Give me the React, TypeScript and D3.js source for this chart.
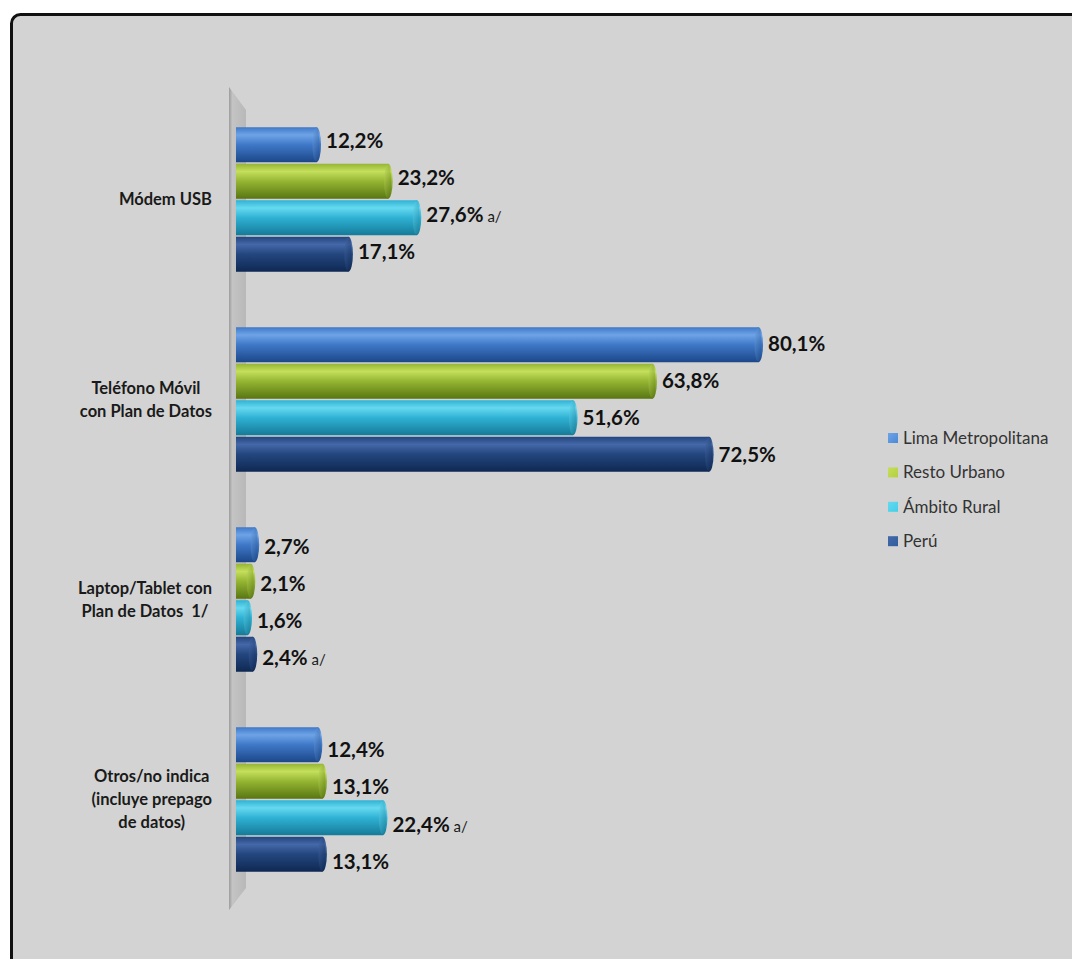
import React, { useEffect, useRef } from "react";
import * as d3 from "d3";

const seriesNames = ["Lima Metropolitana", "Resto Urbano", "Ámbito Rural", "Perú"];
const categories = [
  "Módem USB",
  "Teléfono Móvil\ncon Plan de Datos",
  "Laptop/Tablet con\nPlan de Datos  1/",
  "Otros/no indica\n(incluye prepago\nde datos)",
];
const limaValues = [12.2, 80.1, 2.7, 12.4];
const restoValues = [23.2, 63.8, 2.1, 13.1];
const ambitoValues = [27.6, 51.6, 1.6, 22.4];
const peruValues = [17.1, 72.5, 2.4, 13.1];
const limaNotes = ["", "", "", ""];
const restoNotes = ["", "", "", ""];
const ambitoNotes = ["a/", "", "", "a/"];
const peruNotes = ["", "", "a/", ""];

const seriesColors = [
  { light: "#6ea4e6", base: "#3f78c8", dark: "#1b4788", legend: "#4a8ad8" },
  { light: "#c4df5c", base: "#95b533", dark: "#587612", legend: "#b6cf3e" },
  { light: "#66d9f0", base: "#2fb2d4", dark: "#157a98", legend: "#42cfe8" },
  { light: "#4468a8", base: "#24467e", dark: "#0e2852", legend: "#2f5f9e" },
];

export default function App() {
  const ref = useRef<SVGSVGElement>(null);

  useEffect(() => {
    const svg = d3.select(ref.current);
    svg.selectAll("*").remove();
    const values = [limaValues, restoValues, ambitoValues, peruValues];
    const notes = [limaNotes, restoNotes, ambitoNotes, peruNotes];
    const font = "Lato, 'Open Sans', sans-serif";

    const defs = svg.append("defs");
    seriesColors.forEach((c, i) => {
      const g = defs.append("linearGradient").attr("id", `bar${i}`).attr("x1", 0).attr("y1", 0).attr("x2", 0).attr("y2", 1);
      g.append("stop").attr("offset", "0").attr("stop-color", c.base);
      g.append("stop").attr("offset", "0.22").attr("stop-color", c.light);
      g.append("stop").attr("offset", "0.5").attr("stop-color", c.base);
      g.append("stop").attr("offset", "1").attr("stop-color", c.dark);
      const cg = defs.append("linearGradient").attr("id", `cap${i}`).attr("x1", 0).attr("y1", 0).attr("x2", 1).attr("y2", 1);
      cg.append("stop").attr("offset", "0").attr("stop-color", c.light);
      cg.append("stop").attr("offset", "1").attr("stop-color", c.dark);
      const lg = defs.append("linearGradient").attr("id", `leg${i}`).attr("x1", 0).attr("y1", 0).attr("x2", 1).attr("y2", 1);
      lg.append("stop").attr("offset", "0").attr("stop-color", c.light);
      lg.append("stop").attr("offset", "1").attr("stop-color", c.legend);
    });
    const wg = defs.append("linearGradient").attr("id", "wall").attr("x1", 0).attr("y1", 0).attr("x2", 1).attr("y2", 0);
    wg.append("stop").attr("offset", "0").attr("stop-color", "#9c9c9c");
    wg.append("stop").attr("offset", "0.2").attr("stop-color", "#c4c4c4");
    wg.append("stop").attr("offset", "1").attr("stop-color", "#b8b8b8");

    svg.append("rect").attr("width", 1072).attr("height", 959).attr("fill", "#ffffff");
    svg.append("rect").attr("x", 11.5).attr("y", 14.5).attr("width", 1120).attr("height", 1000).attr("rx", 9)
      .attr("fill", "#d3d3d3").attr("stroke", "#111").attr("stroke-width", 3);

    // wall
    svg.append("path").attr("d", "M229,87 L246,110 L246,888 L229,910 Z").attr("fill", "url(#wall)");

    const x = d3.scaleLinear().domain([0, 100]).range([241.6, 892.6]);
    const yCat = d3.scaleBand<string>().domain(categories).range([99.5, 899.5]);
    const ySer = d3.scaleBand<string>().domain(seriesNames).range([-73, 73]);
    const barH = 35;
    const capRx = 4.5;
    const x0 = 236;

    seriesNames.forEach((s, i) => {
      categories.forEach((cat, j) => {
        const v = values[i][j];
        const cy = (yCat(cat) as number) + yCat.bandwidth() / 2 + (ySer(s) as number) + ySer.bandwidth() / 2;
        const xe = x(v);
        const g = svg.append("g");
        g.append("rect").attr("x", x0).attr("y", cy - barH / 2).attr("width", Math.max(0, xe - capRx - x0)).attr("height", barH)
          .attr("fill", `url(#bar${i})`);
        g.append("ellipse").attr("cx", xe - capRx).attr("cy", cy).attr("rx", capRx).attr("ry", barH / 2)
          .attr("fill", `url(#bar${i})`);
        g.append("ellipse").attr("cx", xe - capRx - 0.5).attr("cy", cy).attr("rx", capRx - 1).attr("ry", barH / 2 - 1)
          .attr("fill", `url(#cap${i})`).attr("opacity", 0.55);
        // slight perspective shift of labels (higher near top, lower near bottom)
        const shift = -4 + (cy - 145) * 0.016;
        const t = svg.append("text").attr("x", xe + 5).attr("y", cy + shift + 7).attr("font-family", font)
          .attr("font-size", 20.5).attr("font-weight", "bold").attr("fill", "#111")
          .style("white-space", "pre");
        t.append("tspan").text(`${d3.format(".1f")(v).replace(".", ",")}%`);
        if (notes[i][j]) {
          t.append("tspan").attr("font-size", 15).attr("font-weight", "normal").attr("fill", "#1a1a1a").text(" " + notes[i][j]);
        }
      });
    });

    // category labels
    categories.forEach((cat) => {
      const lines = cat.split("\n");
      const c = (yCat(cat) as number) + yCat.bandwidth() / 2;
      const g = svg.append("g");
      const t = g.append("text").attr("font-family", font).attr("font-size", 16.5).attr("font-weight", "bold")
        .attr("fill", "#1a1a1a").attr("text-anchor", "middle").style("white-space", "pre");
      lines.forEach((ln, k) => {
        t.append("tspan").attr("x", 0).attr("y", c - ((lines.length - 1) * 23) / 2 + k * 23 + 5.5).text(ln);
      });
      const bb = (t.node() as SVGTextElement).getBBox();
      g.attr("transform", `translate(${212 - (bb.x + bb.width)},0)`);
    });

    // legend
    seriesNames.forEach((s, i) => {
      const y = 438 + i * 34.4;
      svg.append("rect").attr("x", 888).attr("y", y - 5).attr("width", 10).attr("height", 10).attr("fill", `url(#leg${i})`);
      svg.append("text").attr("x", 903).attr("y", y + 6).attr("font-family", font).attr("font-size", 17)
        .attr("fill", "#333").text(s);
    });
  }, []);

  return <svg ref={ref} width={1072} height={959} style={{ position: "absolute", left: 0, top: 0, display: "block" }} />;
}
